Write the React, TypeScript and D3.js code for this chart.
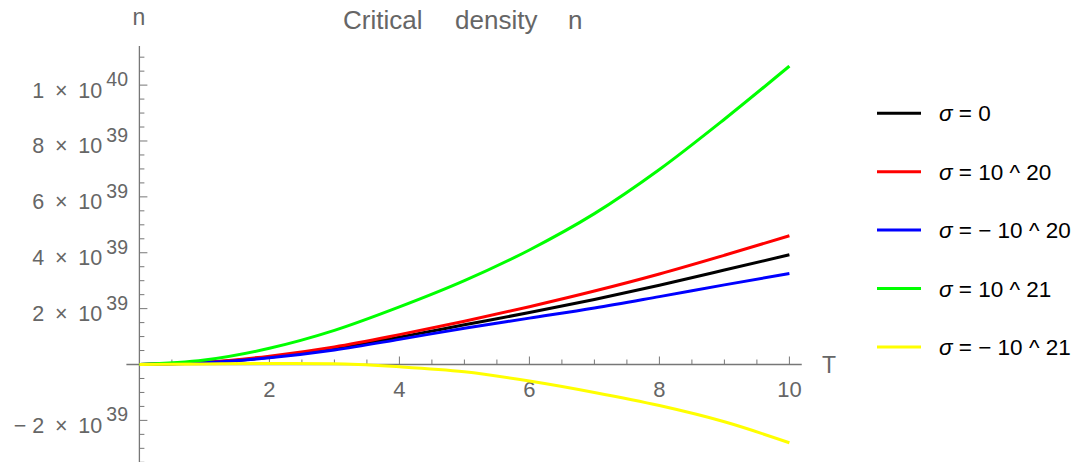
import React from "react";
import * as d3 from "d3";

// temperature samples
const temps = [0, 1, 2, 3, 4, 5, 6, 7, 8, 9, 10];

// critical density, in units of 10^39
const sigma0 = [0, 0.07, 0.26, 0.58, 0.98, 1.42, 1.86, 2.33, 2.84, 3.38, 3.93];
const sigmaP20 = [0, 0.08, 0.3, 0.63, 1.07, 1.55, 2.07, 2.63, 3.24, 3.91, 4.61];
const sigmaM20 = [0, 0.06, 0.24, 0.52, 0.9, 1.3, 1.66, 2.02, 2.43, 2.85, 3.26];
const sigmaP21 = [0, 0.16, 0.58, 1.22, 2.06, 3.0, 4.1, 5.4, 6.98, 8.78, 10.68];
const sigmaM21 = [0, 0.02, 0.04, 0.03, -0.08, -0.26, -0.59, -1.0, -1.47, -2.05, -2.8];

const seriesNames = ["σ = 0", "σ = 10 ^ 20", "σ = − 10 ^ 20", "σ = 10 ^ 21", "σ = − 10 ^ 21"];
const seriesValues = [sigma0, sigmaP20, sigmaM20, sigmaP21, sigmaM21];
const seriesColors = ["#000000", "#ff0000", "#0000ff", "#00ff00", "#ffff00"];

const xTickLabels = [2, 4, 6, 8, 10];
const yTickLabels = [
  { v: -2, m: "− 2", e: "39" },
  { v: 2, m: "2", e: "39" },
  { v: 4, m: "4", e: "39" },
  { v: 6, m: "6", e: "39" },
  { v: 8, m: "8", e: "39" },
  { v: 10, m: "1", e: "40" },
];

const W = 1078;
const H = 462;
const axisColor = "#777";
const textColor = "#666";
const font = "'Liberation Sans', Arial, sans-serif";

export default function App() {
  const x = d3.scaleLinear().domain([0, 10]).range([139.4, 789.4]);
  const y = d3.scaleLinear().domain([-3.5, 11.4]).range([462.3, 46]);

  const line = d3
    .line<number>()
    .x((_, i) => x(temps[i]))
    .y((d) => y(d))
    .curve(d3.curveMonotoneX);

  const xMinor = d3.range(0.5, 10.01, 0.5);
  const yMinor = d3.range(-3.5, 11.01, 0.5).filter((v) => v !== 0);

  return (
    <svg
      width={W}
      height={H}
      style={{ position: "absolute", left: 0, top: 0, background: "#fff" }}
      fontFamily={font}
    >
      {/* title */}
      <g fill={textColor} fontSize={26}>
        <text x={343} y={29}>Critical</text>
        <text x={455} y={29}>density</text>
        <text x={568} y={29}>n</text>
      </g>

      {/* axes */}
      <line x1={x(-0.2)} x2={x(10.19)} y1={y(0)} y2={y(0)} stroke={axisColor} strokeWidth={1.3} />
      <line x1={x(0)} x2={x(0)} y1={y(11.4)} y2={H} stroke={axisColor} strokeWidth={1.3} />

      {xMinor.map((v) => {
        const major = Math.abs(v % 2) < 1e-9;
        return (
          <line
            key={"xt" + v}
            x1={x(v)}
            x2={x(v)}
            y1={y(0)}
            y2={y(0) - (major ? 8 : 5)}
            stroke={axisColor}
            strokeWidth={1}
          />
        );
      })}
      {yMinor.map((v) => {
        const major = Math.abs(v % 2) < 1e-9;
        return (
          <line
            key={"yt" + v}
            x1={x(0)}
            x2={x(0) + (major ? 8 : 5)}
            y1={y(v)}
            y2={y(v)}
            stroke={axisColor}
            strokeWidth={1}
          />
        );
      })}

      {xTickLabels.map((v) => (
        <text key={"xl" + v} x={x(v)} y={397} textAnchor="middle" fill={textColor} fontSize={22}>
          {v}
        </text>
      ))}
      {yTickLabels.map((t) => (
        <text key={"yl" + t.v} x={128} y={y(t.v) + 12.5} textAnchor="end" fill={textColor} fontSize={21.5}>
          {t.m + "\u2002×\u200210"}
          <tspan dx={4} dy={-11.5} fontSize={19.5}>
            {t.e}
          </tspan>
        </text>
      ))}

      <text x={139} y={25} textAnchor="middle" fill={textColor} fontSize={23}>n</text>
      <text x={829} y={373} textAnchor="middle" fill={textColor} fontSize={23}>T</text>

      {/* curves */}
      {seriesValues.map((vals, i) => (
        <path key={"s" + i} d={line(vals) || ""} fill="none" stroke={seriesColors[i]} strokeWidth={3} />
      ))}

      {/* legend */}
      {seriesNames.map((name, i) => {
        const ly = 113.3 + i * 58.4;
        const rest = name.slice(1);
        return (
          <g key={"lg" + i}>
            <line x1={877} x2={921} y1={ly} y2={ly} stroke={seriesColors[i]} strokeWidth={3} />
            <text x={939} y={ly + 8} fontSize={22.5} fill="#000">
              <tspan fontStyle="italic">σ</tspan>
              {rest}
            </text>
          </g>
        );
      })}
    </svg>
  );
}
